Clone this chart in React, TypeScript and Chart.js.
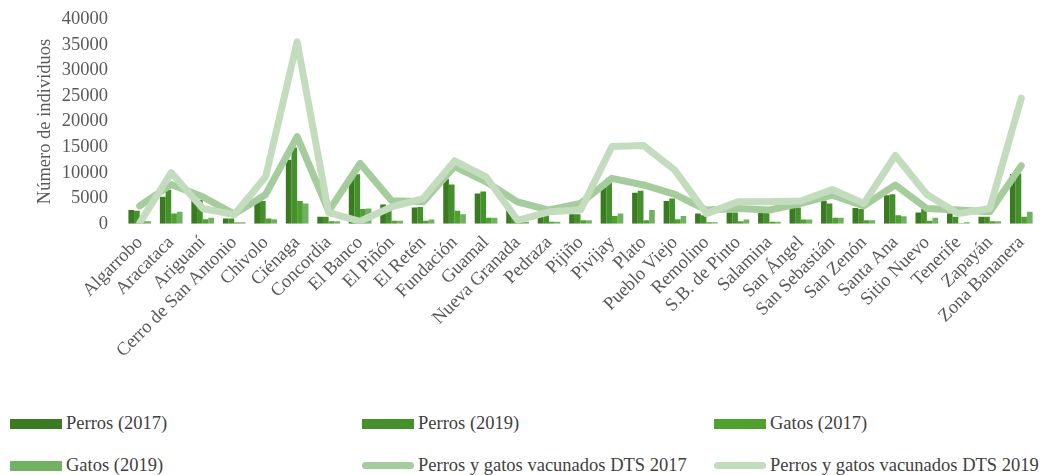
import React, { useEffect, useRef } from "react";
import { Chart, registerables } from "chart.js";

Chart.register(...registerables);

const categories = [
  "Algarrobo", "Aracataca", "Ariguaní", "Cerro de San Antonio", "Chivolo", "Ciénaga",
  "Concordia", "El Banco", "El Piñón", "El Retén", "Fundación", "Guamal", "Nueva Granada",
  "Pedraza", "Pijiño", "Pivijay", "Plato", "Pueblo Viejo", "Remolino", "S.B. de Pinto",
  "Salamina", "San Ángel", "San Sebastián", "San Zenón", "Santa Ana", "Sitio Nuevo",
  "Tenerife", "Zapayán", "Zona Bananera",
];

const perros2017 = [2700, 5300, 4500, 1050, 4300, 12500, 1400, 9200, 3800, 3200, 8750, 5950, 3000, 1700, 1900, 7250, 6100, 4450, 2000, 2200, 2200, 3200, 4500, 3100, 5600, 2200, 2000, 1400, 9750];
const perros2019 = [2550, 6600, 4650, 1050, 4450, 14900, 1400, 9700, 3300, 3300, 7700, 6300, 1500, 1700, 1900, 9000, 6450, 4950, 1700, 2200, 2200, 3200, 4000, 2900, 5800, 2900, 1400, 1400, 9850];
const gatos2017 = [500, 2000, 900, 250, 1050, 4450, 500, 2900, 600, 600, 2550, 1200, 500, 400, 700, 1550, 700, 900, 300, 500, 400, 850, 1200, 700, 1700, 600, 100, 500, 1400];
const gatos2019 = [500, 2350, 1200, 300, 900, 4000, 500, 3000, 600, 850, 1900, 1200, 400, 400, 700, 2000, 2700, 1550, 300, 850, 400, 850, 1200, 700, 1500, 1200, 300, 500, 2350];
const vacunados2017 = [3500, 7700, 5300, 1900, 5750, 17050, 2500, 11800, 4500, 4300, 11200, 8200, 4300, 2700, 4000, 8900, 7600, 5750, 2700, 3000, 2700, 4000, 5600, 3500, 7600, 3000, 2700, 2350, 11350];
const vacunados2019 = [200, 10000, 3000, 1800, 9200, 35550, 2200, 500, 3300, 4950, 12300, 9200, 700, 2350, 2700, 15100, 15300, 10450, 2000, 4300, 4300, 4450, 6700, 4000, 13350, 5750, 2000, 3000, 24550];

const yMax = 40000;
const yStep = 5000;

const seriesNames = [
  "Perros (2017)", "Perros (2019)", "Gatos (2017)", "Gatos (2019)",
  "Perros y gatos vacunados DTS 2017", "Perros y gatos vacunados DTS 2019",
];
const colors = ["#3a7a21", "#44902a", "#4fa12f", "#70b262", "#a5cc9c", "#c4dcbe"];

const FONT = "'Liberation Serif', 'Times New Roman', serif";

export default function App() {
  const ref = useRef<HTMLCanvasElement | null>(null);

  useEffect(() => {
    if (!ref.current) return;
    const barData = [perros2017, perros2019, gatos2017, gatos2019];
    const chart = new Chart(ref.current, {
      type: "bar",
      data: {
        labels: categories,
        datasets: [
          ...barData.map((d, i) => ({
            type: "bar" as const,
            label: seriesNames[i],
            data: d,
            backgroundColor: colors[i],
            borderWidth: 0,
            barPercentage: 1,
            categoryPercentage: 0.72,
            order: 3,
          })),
          {
            type: "line" as const,
            label: seriesNames[4],
            data: vacunados2017,
            borderColor: colors[4],
            backgroundColor: colors[4],
            borderWidth: 7,
            pointRadius: 0,
            tension: 0,
            borderCapStyle: "round" as const,
            borderJoinStyle: "round" as const,
            order: 2,
          },
          {
            type: "line" as const,
            label: seriesNames[5],
            data: vacunados2019,
            borderColor: colors[5],
            backgroundColor: colors[5],
            borderWidth: 7,
            pointRadius: 0,
            tension: 0,
            borderCapStyle: "round" as const,
            borderJoinStyle: "round" as const,
            order: 1,
          },
        ],
      },
      options: {
        animation: false,
        responsive: true,
        maintainAspectRatio: false,
        layout: { padding: { left: 30, top: 7, right: 9, bottom: 0 } },
        plugins: { legend: { display: false }, tooltip: { enabled: false } },
        scales: {
          x: {
            grid: { display: false, drawTicks: false },
            border: { display: false },
            afterFit: (scale: any) => {
              scale.paddingLeft = 0;
              scale.paddingRight = 0;
            },
            ticks: {
              color: "#595959",
              font: { family: FONT, size: 18.5 },
              minRotation: 45,
              maxRotation: 45,
              autoSkip: false,
              padding: 8,
            },
          },
          y: {
            min: 0,
            max: yMax,
            grid: { display: false, drawTicks: false },
            border: { display: false },
            afterFit: (scale: any) => {
              scale.width = 94;
            },
            title: {
              display: true,
              text: "Número de individuos",
              color: "#595959",
              font: { family: FONT, size: 18.5 },
              padding: { top: 4, bottom: 4 },
            },
            ticks: {
              stepSize: yStep,
              autoSkip: false,
              color: "#595959",
              font: { family: FONT, size: 18.5 },
              padding: 16,
              callback: (v: any) => String(v),
            },
          },
        },
      },
    });
    return () => chart.destroy();
  }, []);

  const legendItem = (i: number) => {
    const isLine = i >= 4;
    return (
      <div key={i} style={{ display: "flex", alignItems: "center", width: 352 }}>
        <div
          style={{
            width: 52,
            height: isLine ? 7 : 10,
            borderRadius: isLine ? 4 : 0,
            background: colors[i],
            marginRight: 4,
            flex: "0 0 auto",
          }}
        />
        <span style={{ fontFamily: FONT, fontSize: 18.5, color: "#404040", whiteSpace: "nowrap" }}>
          {seriesNames[i]}
        </span>
      </div>
    );
  };

  return (
    <div style={{ position: "absolute", left: 0, top: 0, width: 1046, height: 475, background: "#fff" }}>
      <div style={{ position: "absolute", left: 0, top: -8, width: 1046, height: 378 }}>
        <canvas ref={ref} />
      </div>
      <div style={{ position: "absolute", left: 10, top: 413, display: "flex" }}>
        {[0, 1, 2].map(legendItem)}
      </div>
      <div style={{ position: "absolute", left: 10, top: 455, display: "flex" }}>
        {[3, 4, 5].map(legendItem)}
      </div>
    </div>
  );
}
